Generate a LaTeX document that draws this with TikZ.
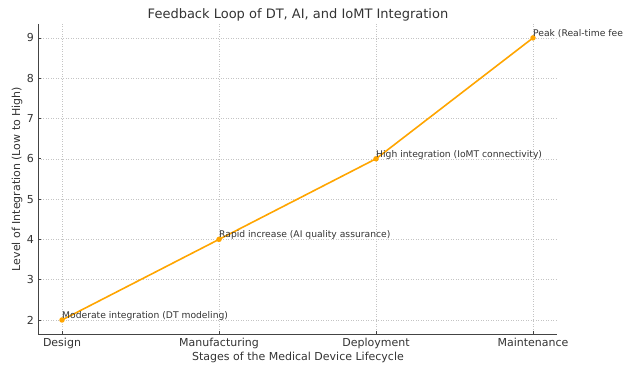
\documentclass[tikz,border=0pt]{standalone}
\usepackage{fontspec}
\setmainfont{DejaVu Sans}
\definecolor{lineorange}{HTML}{FFA500}
\definecolor{gridgray}{HTML}{C4C4C4}
\definecolor{textgray}{HTML}{333333}
\definecolor{spinegray}{HTML}{444444}
\tikzset{
  gridline/.style={gridgray, dotted, line width=0.5pt},
  spine/.style={spinegray, line width=0.9pt},
  dot/.style={circle, fill=lineorange, inner sep=0pt, minimum size=5.5pt},
  note/.style={anchor=base west, inner sep=0pt, text=textgray, font=\fontsize{9.2}{11}\selectfont},
  ticklabel/.style={text=textgray, font=\fontsize{11}{13}\selectfont},
}
\begin{document}
\begin{tikzpicture}[x=1pt,y=1pt]
  \useasboundingbox (0,0) rectangle (635,366);
  \node[text=textgray, font=\fontsize{13}{15}\selectfont] (title) at (298,351) {Feedback Loop of DT, AI, and IoMT Integration};
  \node[ticklabel, rotate=90] (ylabel) at (17,187) {Level of Integration (Low to High)};
  \node[ticklabel] (xlabel) at (298,9) {Stages of the Medical Device Lifecycle};
  \begin{scope}[shift={(62pt,-34.6pt)}, x=157pt, y=40.3pt]
    % grid
    \foreach \i in {0,...,3}
      \draw[gridline] (\i,1.65) -- (\i,9.35);
    \foreach \v in {2,...,9}
      \draw[gridline] (-0.15,\v) -- (3.15,\v);
    % axes
    \coordinate (origin) at (-0.15,1.65);
    \coordinate (xend) at (3.15,1.65);
    \coordinate (yend) at (-0.15,9.35);
    \draw[spine] (yend) -- (origin) -- (xend);
    \foreach \i/\stage in {0/Design,1/Manufacturing,2/Deployment,3/Maintenance}{
      \draw[spine, line width=0.6pt] (\i,1.65) -- ++(0,3pt);
      \node[ticklabel, anchor=north, yshift=-1pt] (xt-\i) at (\i,1.65) {\stage};
    }
    \foreach \v in {2,...,9}{
      \draw[spine, line width=0.6pt] (-0.15,\v) -- ++(3pt,0);
      \node[ticklabel, anchor=east, xshift=-1pt] (yt-\v) at (-0.15,\v) {\v};
    }
    % data
    \coordinate (design) at (0,2);
    \coordinate (manufacturing) at (1,4);
    \coordinate (deployment) at (2,6);
    \coordinate (maintenance) at (3,9);
    \draw[lineorange, line width=1.6pt] (design) -- (manufacturing) -- (deployment) -- (maintenance);
    \foreach \p in {design,manufacturing,deployment,maintenance}
      \node[dot] (dot-\p) at (\p) {};
    \node[note] (note-design) at (design) [yshift=1.5pt] {Moderate integration (DT modeling)};
    \node[note] (note-manufacturing) at (manufacturing) [yshift=1.5pt] {Rapid increase (AI quality assurance)};
    \node[note] (note-deployment) at (deployment) [yshift=1.5pt] {High integration (IoMT connectivity)};
    \node[note] (note-maintenance) at (maintenance) [yshift=1.5pt] {Peak (Real-time fee};
  \end{scope}
\end{tikzpicture}
\end{document}
